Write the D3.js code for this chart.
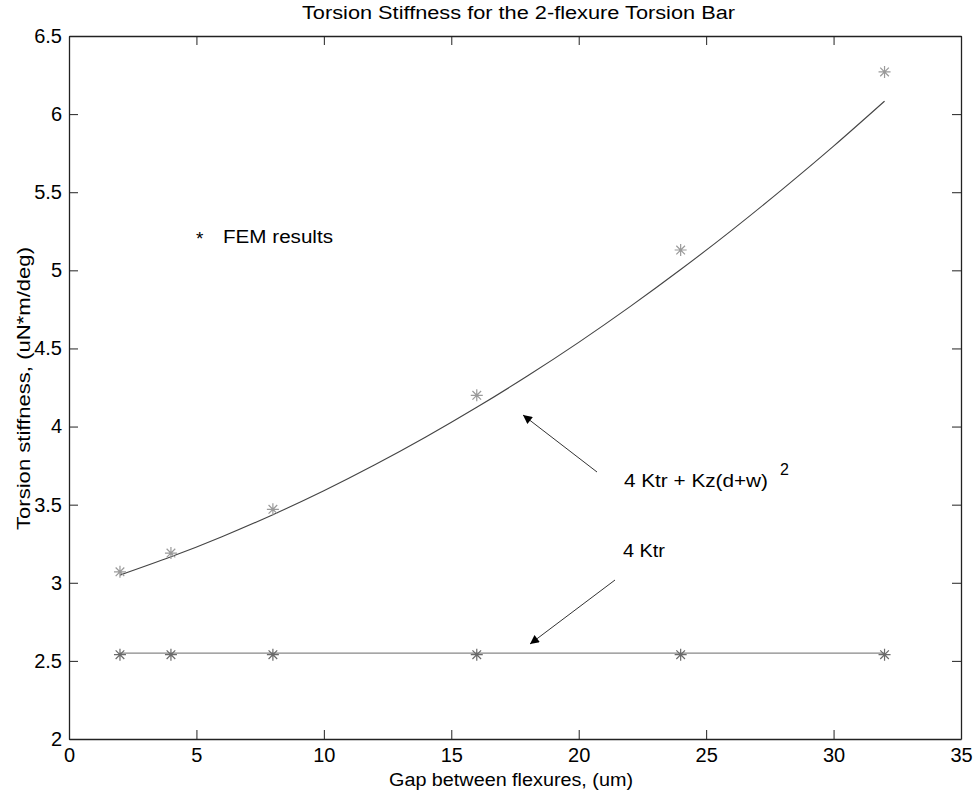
<!DOCTYPE html>
<html>
<head>
<meta charset="utf-8">
<script src="https://cdn.jsdelivr.net/npm/d3@7"></script>
<style>
body { margin: 0; background: #fff; }
text { font-family: "Liberation Sans", Arial, sans-serif; fill: #000; }
</style>
</head>
<body>
<svg></svg>
<script>
// FEM results
var gaps = [2, 4, 8, 16, 24, 32];
var femUpper = [3.07, 3.19, 3.47, 4.2, 5.13, 6.27];
var femLower = [2.54, 2.54, 2.54, 2.54, 2.54, 2.54];

// fitted curve 4 Ktr + Kz(d+w)^2
var curveGap = [2, 4, 6, 8, 10, 12, 14, 16, 18, 20, 22, 24, 26, 28, 30, 32];
var curveVal = [3.049, 3.166, 3.295, 3.436, 3.589, 3.755, 3.933, 4.123, 4.325, 4.539, 4.766, 5.005, 5.256, 5.52, 5.795, 6.083];

// 4 Ktr line
var ktrGap = [2, 32];
var ktrVal = [2.55, 2.55];

var xTicks = [0, 5, 10, 15, 20, 25, 30, 35];
var yTicks = [2, 2.5, 3, 3.5, 4, 4.5, 5, 5.5, 6, 6.5];

var width = 979, height = 800;
var margin = {left: 69, right: 18, top: 36, bottom: 61};

var svg = d3.select('svg').attr('width', width).attr('height', height);

var x = d3.scaleLinear().domain([0, 35]).range([margin.left, width - margin.right]);
var y = d3.scaleLinear().domain([2, 6.5]).range([height - margin.bottom, margin.top]);

svg.append('defs').append('marker')
	.attr('id', 'head')
	.attr('viewBox', '0 0 10 10')
	.attr('refX', 10).attr('refY', 5)
	.attr('markerWidth', 14).attr('markerHeight', 9)
	.attr('markerUnits', 'userSpaceOnUse')
	.attr('orient', 'auto')
	.append('path').attr('d', 'M0,0L10,5L0,10Z').attr('fill', '#000');

// axes, ticks pointing inward on all four sides
var tickFmt = d3.format('');
svg.append('g').attr('transform', 'translate(0,' + y(2) + ')')
	.call(d3.axisBottom(x).tickValues(xTicks).tickFormat(tickFmt).tickSizeInner(-9).tickSizeOuter(0).tickPadding(9));
svg.append('g').attr('transform', 'translate(0,' + y(6.5) + ')')
	.call(d3.axisTop(x).tickValues(xTicks).tickFormat('').tickSizeInner(-9).tickSizeOuter(0));
svg.append('g').attr('transform', 'translate(' + x(0) + ',0)')
	.call(d3.axisLeft(y).tickValues(yTicks).tickFormat(tickFmt).tickSizeInner(-9).tickSizeOuter(0).tickPadding(7));
svg.append('g').attr('transform', 'translate(' + x(35) + ',0)')
	.call(d3.axisRight(y).tickValues(yTicks).tickFormat('').tickSizeInner(-9).tickSizeOuter(0));

svg.selectAll('.domain').attr('stroke', '#222').attr('stroke-width', 1.3);
svg.selectAll('.tick line').attr('stroke', '#222');
svg.selectAll('.tick text').style('font-size', '20px').style('font-family', '"Liberation Sans", Arial, sans-serif').attr('fill', '#000');

// lines
var line = d3.line().x(function(d) { return x(d[0]); }).y(function(d) { return y(d[1]); }).curve(d3.curveNatural);

svg.append('path')
	.datum(curveGap.map(function(d, i) { return [d, curveVal[i]]; }))
	.attr('d', line)
	.attr('fill', 'none')
	.attr('stroke', '#444')
	.attr('stroke-width', 1.1);

svg.append('path')
	.datum(ktrGap.map(function(d, i) { return [d, ktrVal[i]]; }))
	.attr('d', d3.line().x(function(d) { return x(d[0]); }).y(function(d) { return y(d[1]); }))
	.attr('fill', 'none')
	.attr('stroke', '#888')
	.attr('stroke-width', 1.4);

// matlab style asterisk marker
var asterisk = {
	draw: function(ctx, size) {
		var r = Math.sqrt(size) / 2, q = r * 0.72;
		ctx.moveTo(-r, 0); ctx.lineTo(r, 0);
		ctx.moveTo(0, -r); ctx.lineTo(0, r);
		ctx.moveTo(-q, -q); ctx.lineTo(q, q);
		ctx.moveTo(-q, q); ctx.lineTo(q, -q);
	}
};
var star = d3.symbol().type(asterisk).size(144);

function drawStars(vals, color) {
	svg.append('g').selectAll('path')
		.data(gaps.map(function(d, i) { return [d, vals[i]]; }))
		.enter()
		.append('path')
		.attr('transform', function(d) { return 'translate(' + x(d[0]) + ',' + y(d[1]) + ')'; })
		.attr('d', star)
		.attr('fill', 'none')
		.attr('stroke', color)
		.attr('stroke-width', 1.2);
}
drawStars(femUpper, '#9a9a9a');
drawStars(femLower, '#6a6a6a');

// text helper, MATLAB fonts render wider than Arial
function label(px, py, str, size, len) {
	var t = svg.append('text').attr('x', px).attr('y', py).style('font-size', size + 'px').text(str);
	if (len) t.attr('textLength', len).attr('lengthAdjust', 'spacingAndGlyphs');
	return t;
}

// annotations
label(196, 245, '*', 19);
label(223, 243, 'FEM results', 18, 110);

svg.append('line')
	.attr('x1', 597).attr('y1', 472).attr('x2', 523).attr('y2', 415)
	.attr('stroke', '#333').attr('stroke-width', 1).attr('marker-end', 'url(#head)');
label(624, 487, '4 Ktr + Kz(d+w)', 18, 144);
label(780, 475, '2', 16);

svg.append('line')
	.attr('x1', 615).attr('y1', 580).attr('x2', 530).attr('y2', 644)
	.attr('stroke', '#333').attr('stroke-width', 1).attr('marker-end', 'url(#head)');
label(623, 557, '4 Ktr', 18, 42);

// titles
label(302, 19, 'Torsion Stiffness for the 2-flexure Torsion Bar', 18, 433);
label(389, 786, 'Gap between flexures, (um)', 18, 244);
label(0, 0, 'Torsion stiffness, (uN*m/deg)', 18, 283)
	.attr('transform', 'translate(30,530) rotate(-90)');
</script>
</body>
</html>
